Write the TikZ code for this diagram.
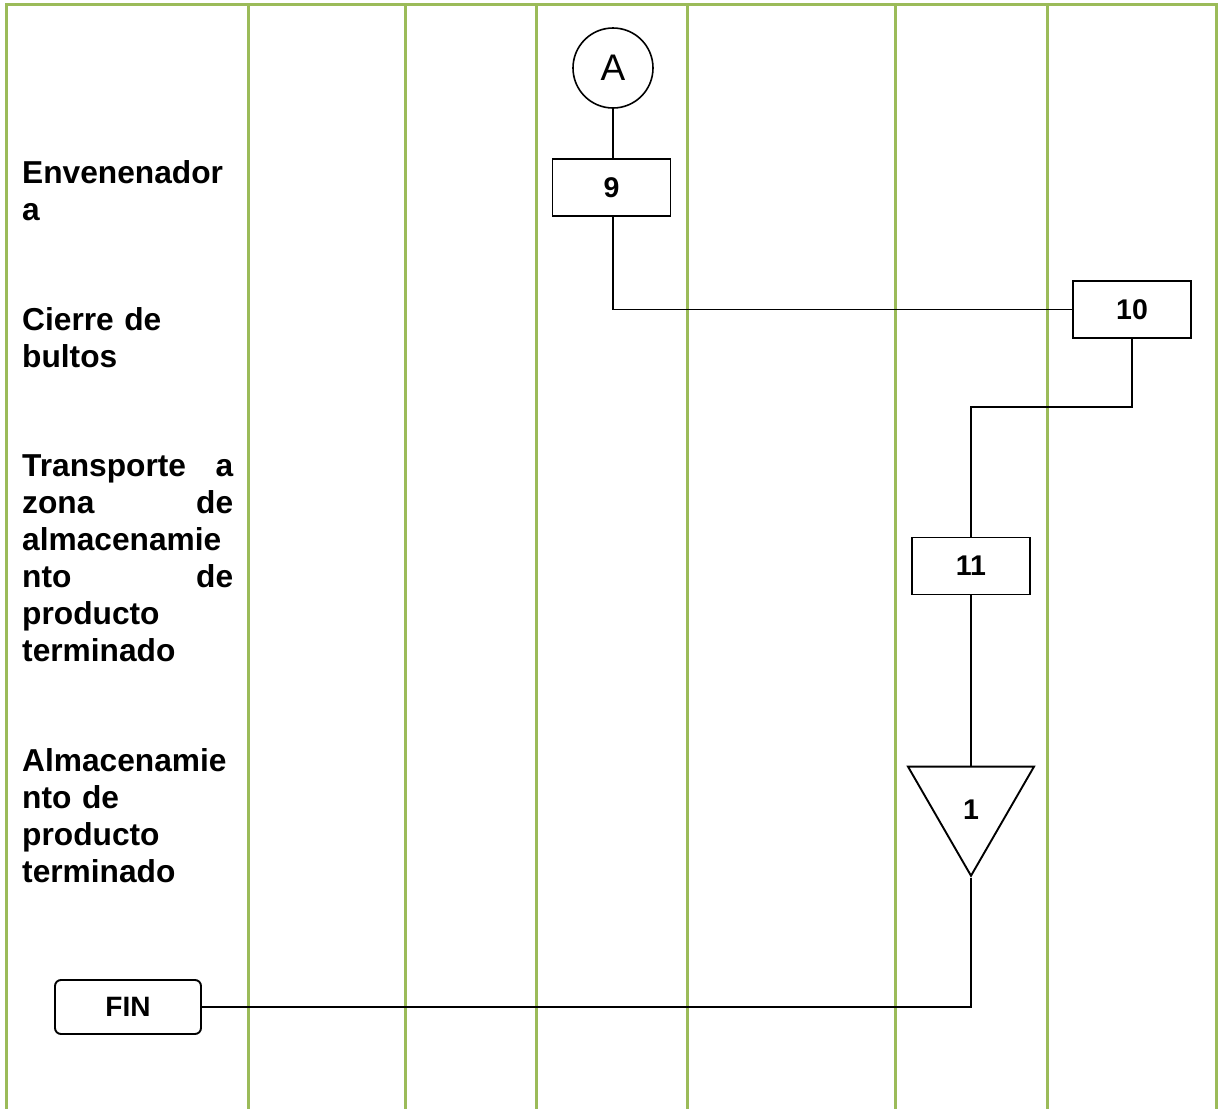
\documentclass[tikz,border=0pt]{standalone}
\usepackage{fontspec}
\setmainfont{Liberation Sans}
\usetikzlibrary{shapes.geometric}
\definecolor{laneg}{RGB}{155,187,89}

\begin{document}
\begin{tikzpicture}[x=1pt, y=-1pt,
  lane/.style={draw=laneg, line width=3pt},
  stage/.style={align=left, text width=211pt, inner sep=0pt, anchor=north west,
                font=\fontsize{31.7}{37}\selectfont\bfseries},
  opbox/.style={draw, line width=1.9pt, minimum width=118pt, minimum height=57pt,
                inner sep=0pt, font=\fontsize{28.5}{30}\selectfont\bfseries},
  conn/.style={draw, circle, line width=1.6pt, minimum size=80pt, inner sep=0pt,
               font=\fontsize{37}{40}\selectfont},
  store/.style={draw, regular polygon, regular polygon sides=3, shape border rotate=180,
                line width=1.9pt, minimum size=145.5pt, inner sep=0pt},
  storenum/.style={font=\fontsize{28.5}{30}\selectfont\bfseries, yshift=-7pt},
  term/.style={draw, rounded corners=6pt, line width=1.9pt, minimum width=146pt,
               minimum height=54pt, inner sep=0pt, font=\fontsize{28}{30}\selectfont\bfseries},
  flow/.style={line width=1.8pt},
]
\useasboundingbox (0,0) rectangle (1219,1109);

% ---------- Lanes ----------
\draw[lane] (6.5,1109) -- (6.5,4.5) -- (1216,4.5) -- (1216,1109);
\foreach \lx in {248,405,536,687,895,1047}
  \draw[lane] (\lx,4.5) -- (\lx,1109);

% ---------- Stage labels ----------
\node[stage] (envenenadora) at (22,160.5) {Envenenador\\a};
\node[stage] (cierre) at (22,307.5) {Cierre de\\bultos};
\node[stage] (transporte) at (22,454.5)
  {Transporte\hfill a\\zona\hfill de\\almacenamie\\nto\hfill de\\producto\\terminado};
\node[stage] (almacen) at (22,748.5) {Almacenamie\\nto de\\producto\\terminado};

% ---------- Flow symbols ----------
\node[conn] (cA) at (613,68) {A};
\node[opbox] (op9) at (611.5,187.5) {9};
\node[opbox] (op10) at (1132,309.5) {10};
\node[opbox] (op11) at (971,566) {11};
\node[store, label={[storenum]center:1}] (st1) at (971,803) {};
\node[term] (fin) at (128,1007) {FIN};

% ---------- Connectors ----------
\draw[flow] (cA) -- (cA |- op9.north);
\draw[flow] (cA |- op9.south) |- (op10.west);
\draw[flow] (op10.south) -- ++(0,68) -| (op11.north);
\draw[flow] (op11) -- (st1);
\draw[flow] (st1.corner 1) |- (fin.east);

\end{tikzpicture}
\end{document}
